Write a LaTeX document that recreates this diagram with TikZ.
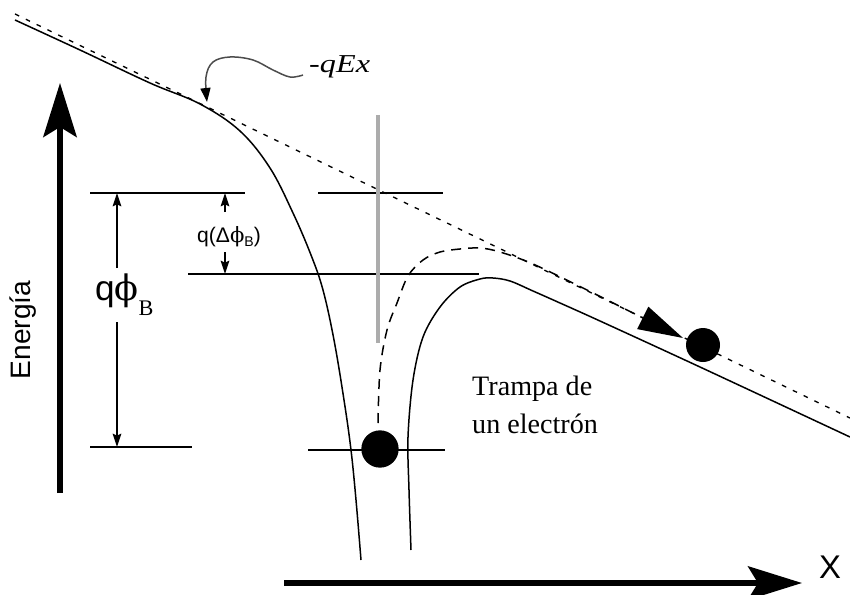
\documentclass[tikz,border=0pt]{standalone}
\usepackage{fontspec}
\setmainfont{Liberation Serif}
\newfontfamily\lsans{Liberation Sans}
\newfontfamily\dvserif{DejaVu Serif}
\usetikzlibrary{arrows.meta}
\begin{document}
\begin{tikzpicture}[x=0.03cm,y=-0.03cm,
  thinline/.style={line width=0.045cm},
  bigarrow/.style={line width=0.16cm,-{Stealth[length=1.62cm,width=1.0cm,inset=0.3cm]}},
  smallarrow/.style={line width=0.04cm,-{Stealth[length=0.4cm,width=0.26cm,inset=0.06cm]}},
  qexline/.style={line width=0.04cm,dash pattern=on 0.14cm off 0.22cm},
  pathline/.style={line width=0.045cm,dash pattern=on 0.3cm off 0.21cm,-{Triangle[length=1.35cm,width=0.74cm]}},
  callout/.style={line width=0.045cm,black!70,-{Triangle[length=0.42cm,width=0.3cm,color=black]}},
  level/.style={line width=0.045cm},
  ball/.style={fill=black}]
\useasboundingbox (0,0) rectangle (850,594);

% axes
\coordinate (ebot) at (60,493);
\coordinate (etop) at (60,83);
\draw[bigarrow] (ebot) -- (etop);
\coordinate (xleft) at (284,583);
\coordinate (xright) at (802,583);
\draw[bigarrow] (xleft) -- (xright);
\node[font=\lsans\fontsize{28}{28}\selectfont] (xlab) at (830,567) {X};
\node[font=\lsans\fontsize{24}{24}\selectfont, rotate=90] (energia) at (23,330) {Energía};

% energy levels
\draw[level] (90,193) -- (245,193);
\draw[level] (318,193) -- (443,193);
\draw[level] (188,274) -- (479,274);
\draw[level] (90,447) -- (192,447);
\draw[level] (308,450) -- (445,450);

% gray vertical line
\draw[gray!65, line width=0.1cm] (378,115) -- (378,343);

% -qEx dashed line
\coordinate (qa) at (15,14);
\coordinate (qb) at (850,418);
\draw[qexline] (qa) -- (qb);

% solid band curve
\draw[thinline] plot[smooth, tension=0.6] coordinates {(15,20) (80,50) (150,83) (200,104) (240,131) (270,168) (293,213) (311,255) (323,290) (334,340) (344,400) (351,450) (356,500) (361,560)};
\draw[thinline] plot[smooth, tension=0.55] coordinates {(411,550) (409,490) (408,437) (413,380) (423,337) (440,307) (460,287) (480,279) (493,278) (510,281) (533,291) (560,303) (600,321) (700,367) (850,437)};

% dashed escape path
\draw[pathline] plot[smooth, tension=0.55] coordinates {(378,423) (380,370) (387,330) (397,303) (408,276) (423,260) (440,252) (460,249) (480,248) (500,252) (533,264) (587,290) (633,313) (683,338)};

% balls
\fill[ball] (380,449) circle[radius=0.56cm];
\fill[ball] (703,345) circle[radius=0.51cm];

% qphiB arrows
\draw[smallarrow] (117,268) -- (117,193);
\draw[smallarrow] (117,322) -- (117,447);
\node[anchor=base west, inner sep=0] (qphib) at (95,300) {\fontsize{30}{30}\selectfont\lsans q{\dvserif ϕ}\raisebox{-0.45cm}{\rmfamily\fontsize{19}{19}\selectfont B}};

% q(dphiB) arrows
\draw[smallarrow] (225,212) -- (225,193);
\draw[smallarrow] (225,252) -- (225,274);
\node[inner sep=0] (dphi) at (229,237) {\lsans\fontsize{18}{18}\selectfont q(Δ{\dvserif ϕ}\raisebox{-0.12cm}{\fontsize{12}{12}\selectfont B})};

% -qEx label and callout
\node[anchor=base west, inner sep=0] (qex) at (309,73) {\scalebox{1.25}[1]{\fontsize{22}{22}\selectfont\itshape -qEx}};
\draw[callout] plot[smooth, tension=0.6] coordinates {(303,75) (290,77) (273,70) (253,60) (230,57) (213,62) (206,77) (207,102)};

% trap text
\node[anchor=base west, inner sep=0] (tr1) at (472,395) {\fontsize{24}{24}\selectfont Trampa de};
\node[anchor=base west, inner sep=0] (tr2) at (472,433) {\fontsize{24}{24}\selectfont un electrón};
\end{tikzpicture}
\end{document}
